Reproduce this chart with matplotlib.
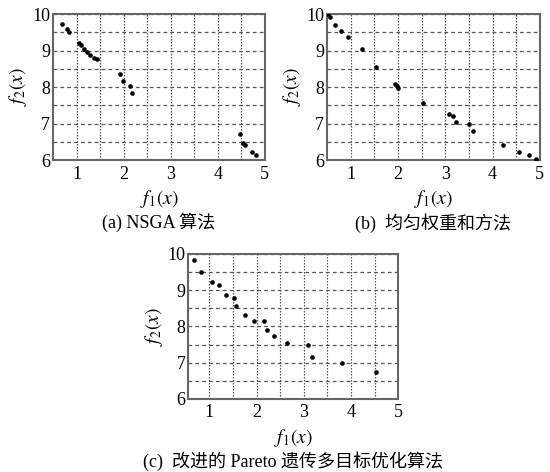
import matplotlib
matplotlib.use("Agg")
import matplotlib.pyplot as plt

plt.rcParams['font.family'] = ['Liberation Serif', 'Noto Sans CJK SC']
plt.rcParams['mathtext.fontset'] = 'stix'

# (a) NSGA
a_x = [0.69, 0.79, 0.84, 1.05, 1.10, 1.15, 1.22, 1.28, 1.37, 1.43, 1.92, 1.98, 2.14, 2.17,
       4.48, 4.53, 4.58, 4.72, 4.81]
a_y = [9.72, 9.58, 9.50, 9.21, 9.15, 9.04, 8.96, 8.89, 8.80, 8.76, 8.35, 8.18, 8.04, 7.83,
       6.72, 6.46, 6.42, 6.21, 6.13]

# (b) 均匀权重和方法
b_x = [0.52, 0.56, 0.68, 0.80, 0.94, 1.23, 1.54, 1.94, 1.98, 2.01, 2.52, 3.09, 3.16, 3.22,
       3.50, 3.59, 4.22, 4.56, 4.77, 4.91]
b_y = [10.0, 9.91, 9.70, 9.55, 9.36, 9.05, 8.55, 8.09, 8.02, 7.97, 7.55, 7.27, 7.21, 7.03,
       7.00, 6.79, 6.40, 6.22, 6.13, 6.04]

# (c) 改进的 Pareto 遗传多目标优化算法
c_x = [0.67, 0.83, 1.06, 1.20, 1.35, 1.52, 1.57, 1.75, 1.94, 2.16, 2.23, 2.37, 2.64, 3.08,
       3.18, 3.80, 4.53]
c_y = [9.84, 9.50, 9.22, 9.14, 8.86, 8.77, 8.56, 8.31, 8.16, 8.16, 7.89, 7.73, 7.55, 7.48,
       7.16, 7.00, 6.74]

captions = ["(a) NSGA 算法", "(b)  均匀权重和方法", "(c)  改进的 Pareto 遗传多目标优化算法"]

fig = plt.figure(figsize=(5.5, 4.72), dpi=100)
rects = [[0.0964, 0.661, 0.385, 0.309],
         [0.5945, 0.661, 0.387, 0.309],
         [0.342, 0.155, 0.382, 0.307]]
xlims = [(0.5, 4.97), (0.5, 5.0), (0.55, 5.0)]
data = [(a_x, a_y), (b_x, b_y), (c_x, c_y)]

for rect, xl, (xs, ys), cap in zip(rects, xlims, data, captions):
    ax = fig.add_axes(rect)
    ax.scatter(xs, ys, s=11, color='black', zorder=3, linewidths=0)
    ax.set_xlim(*xl)
    ax.set_ylim(6, 10)
    ax.set_xticks([1, 2, 3, 4, 5])
    ax.set_yticks([6, 7, 8, 9, 10])
    ax.set_xticks([1.5, 2.5, 3.5, 4.5], minor=True)
    ax.set_yticks([6.5, 7.5, 8.5, 9.5], minor=True)
    ax.xaxis.grid(True, which='both', color='#555555', linestyle=(0, (1.2, 1.2)), linewidth=0.9)
    ax.yaxis.grid(True, which='both', color='#555555', linestyle=(0, (3, 2.5)), linewidth=0.9)
    ax.tick_params(which='both', length=0, labelsize=13, pad=2)
    ax.tick_params(axis='x', pad=4)
    for sp in ax.spines.values():
        sp.set_color('#666666')
        sp.set_linewidth(1.5)
    ax.set_xlabel(r'$f_1(x)$', fontsize=14, labelpad=4)
    ax.set_ylabel(r'$f_2(x)$', fontsize=14, labelpad=2)
    ax.text(0.5, -0.43, cap, transform=ax.transAxes, ha='center', va='center', fontsize=13)

fig.savefig('out.png', dpi=100)
